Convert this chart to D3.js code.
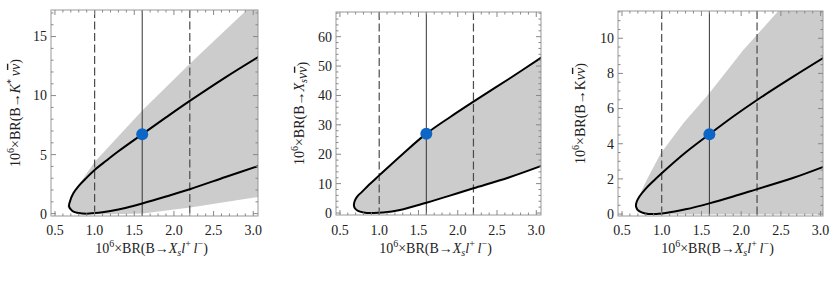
<!DOCTYPE html>
<html>
<head>
<meta charset="utf-8">
<script src="https://cdn.jsdelivr.net/npm/d3@7"></script>
<style>
  body { margin: 0; background: #fff; }
</style>
</head>
<body>
<div id="chart-area"></div>
<script>

var width = 830,
	height = 284;

var serif = "'Liberation Serif', 'Times New Roman', Times, 'DejaVu Serif', serif";

// shared x ticks (BR(B -> Xs l+ l-) x 10^6)
var xTicks = [0.5, 1.0, 1.5, 2.0, 2.5, 3.0];
var xLines = [1.0, 2.2];     // dashed experimental range
var xCentral = 1.6;          // solid central value

// panel 1 : B -> K* nu nu
var kstarTicks = [0, 5, 10, 15];
var kstarCurve = [
	[3.07, 4.05], [2.65, 3.1], [2.2, 2.07], [1.9, 1.45], [1.6, 0.86],
	[1.4, 0.5], [1.2, 0.22], [1.05, 0.07], [0.9, 0.0], [0.8, 0.05],
	[0.72, 0.22], [0.678, 0.6], [0.69, 1.05], [0.73, 1.7], [0.8, 2.35],
	[0.9, 3.05], [1.0, 3.7], [1.15, 4.5], [1.3, 5.28], [1.6, 6.72],
	[1.9, 8.15], [2.2, 9.55], [2.65, 11.55], [3.07, 13.3]
];
var kstarBandTop = [
	[0.66, 0.7], [0.70, 1.45], [0.90, 3.41], [1.0, 4.37], [1.607, 8.78],
	[2.207, 12.74], [2.918, 17.25], [3.10, 18.2]
];
var kstarBandBottom = [
	[3.10, 1.45], [2.207, 0.52], [1.607, 0.02], [1.2, -0.05], [0.85, -0.05],
	[0.72, 0.1], [0.66, 0.5]
];
var kstarPoint = [1.6, 6.72];

// panel 2 : B -> Xs nu nu
var xsTicks = [0, 10, 20, 30, 40, 50, 60];
var xsCurve = [
	[3.07, 16.1], [2.65, 12.1], [2.2, 8.4], [1.9, 5.9], [1.6, 3.5],
	[1.265, 1.0], [1.05, 0.15], [0.9, 0.0], [0.8, 0.2], [0.73, 0.7],
	[0.69, 1.6], [0.678, 2.6], [0.685, 3.8], [0.70, 4.8], [0.73, 5.9],
	[0.78, 7.2], [0.87, 9.6], [1.0, 12.8], [1.3, 20.1], [1.6, 27.0],
	[1.9, 32.6], [2.2, 37.9], [2.65, 45.6], [3.07, 53.0]
];
var xsPoint = [1.6, 27];

// panel 3 : B -> K nu nu
var kTicks = [0, 2, 4, 6, 8, 10];
var kCurve = [
	[3.06, 2.73], [2.65, 2.05], [2.2, 1.42], [1.9, 1.0], [1.6, 0.61],
	[1.3, 0.27], [1.05, 0.06], [0.9, 0.0], [0.78, 0.05], [0.715, 0.17],
	[0.677, 0.42], [0.685, 0.7], [0.72, 1.0], [0.8, 1.45], [0.9, 1.9],
	[1.0, 2.32], [1.3, 3.5], [1.6, 4.54], [1.9, 5.55], [2.2, 6.49],
	[2.65, 7.8], [3.06, 8.95]
];
var kBandTop = [
	[0.67, 0.3], [0.693, 0.80], [0.811, 1.94], [0.987, 3.45], [1.272, 5.16],
	[1.599, 6.87], [2.027, 9.33], [2.467, 11.55], [2.65, 12.6]
];
var kBandBottom = [
	[3.10, 12.6], [3.10, -0.02], [0.80, -0.02], [0.70, 0.1], [0.67, 0.3]
];
var kPoint = [1.6, 4.54];

var panels = [
	{left: 51, right: 258, top: 10, bottom: 216, xDom: [0.45, 3.06], yDom: [-0.2, 17.25],
	 yTicks: kstarTicks, yMinor: 1, curve: kstarCurve, bandTop: kstarBandTop, bandBottom: kstarBandBottom,
	 point: kstarPoint, yLabelX: 15, yLabel: "kstar"},
	{left: 336, right: 541, top: 12, bottom: 215, xDom: [0.45, 3.06], yDom: [-0.68, 68.4],
	 yTicks: xsTicks, yMinor: 2, curve: xsCurve, bandTop: null, bandBottom: null,
	 point: xsPoint, yLabelX: 299, yLabel: "xs"},
	{left: 618, right: 823, top: 11, bottom: 216, xDom: [0.45, 3.03], yDom: [-0.11, 11.55],
	 yTicks: kTicks, yMinor: 0.5, curve: kCurve, bandTop: kBandTop, bandBottom: kBandBottom,
	 point: kPoint, yLabelX: 580, yLabel: "k"}
];

var svg = d3.select("#chart-area").append("svg")
	.attr("width", width)
	.attr("height", height)
	.attr("font-family", serif)
	.style("font-family", serif);

var line = d3.line()
	.x(function(d) { return d.x; })
	.y(function(d) { return d.y; })
	.curve(d3.curveCatmullRom.alpha(0.5));

function range(a, b, step) {
	var out = [];
	for (var v = a; v <= b + 1e-9; v += step) out.push(Math.round(v * 1000) / 1000);
	return out;
}

// nu nu-bar, second nu with a bar over it
function nunubar(t) {
	t.append("tspan").attr("font-style", "italic").text("\u03bd");
	t.append("tspan").attr("font-style", "italic")
		.style("text-decoration", "overline").text("\u03bd");
}

panels.forEach(function(p, i) {

	var x = d3.scaleLinear().domain(p.xDom).range([p.left, p.right]);
	var y = d3.scaleLinear().domain(p.yDom).range([p.bottom, p.top]);

	var g = svg.append("g");

	g.append("clipPath").attr("id", "clip" + i)
		.append("rect")
		.attr("x", p.left).attr("y", p.top)
		.attr("width", p.right - p.left).attr("height", p.bottom - p.top);

	var plot = g.append("g").attr("clip-path", "url(#clip" + i + ")");

	var toPx = function(pts) {
		return pts.map(function(d) { return {x: x(d[0]), y: y(d[1])}; });
	};

	// gray band
	if (p.bandTop) {
		var bandLine = d3.line()
			.x(function(d) { return x(d[0]); })
			.y(function(d) { return y(d[1]); })
			.curve(d3.curveLinear);
		plot.append("path")
			.attr("d", bandLine(p.bandTop.concat(p.bandBottom)) + "Z")
			.attr("fill", "#cccccc");
	} else {
		plot.append("path")
			.attr("d", line(toPx(p.curve)) + "Z")
			.attr("fill", "#cccccc");
	}

	// vertical lines
	xLines.forEach(function(v) {
		plot.append("line")
			.attr("x1", x(v)).attr("x2", x(v))
			.attr("y1", p.top).attr("y2", p.bottom)
			.attr("stroke", "#4a4a4a")
			.attr("stroke-width", 1.2)
			.attr("stroke-dasharray", "8,3.5");
	});
	plot.append("line")
		.attr("x1", x(xCentral)).attr("x2", x(xCentral))
		.attr("y1", p.top).attr("y2", p.bottom)
		.attr("stroke", "#333")
		.attr("stroke-width", 1);

	// contour
	plot.append("path")
		.attr("d", line(toPx(p.curve)))
		.attr("fill", "none")
		.attr("stroke", "#000")
		.attr("stroke-width", 2);

	// central point
	plot.append("circle")
		.attr("cx", x(p.point[0])).attr("cy", y(p.point[1]))
		.attr("r", 6)
		.attr("fill", "#0b66c6");

	// frame
	g.append("rect")
		.attr("x", p.left).attr("y", p.top)
		.attr("width", p.right - p.left).attr("height", p.bottom - p.top)
		.attr("fill", "none")
		.attr("stroke", "#999")
		.attr("stroke-width", 1);

	// ticks (inside, all four sides)
	var tickCol = "#888";
	var xMinor = range(0.5, p.xDom[1], 0.1);
	xMinor.forEach(function(v) {
		var major = xTicks.indexOf(v) >= 0;
		var len = major ? 5 : 2.5;
		g.append("line").attr("x1", x(v)).attr("x2", x(v))
			.attr("y1", p.bottom).attr("y2", p.bottom - len)
			.attr("stroke", tickCol);
		g.append("line").attr("x1", x(v)).attr("x2", x(v))
			.attr("y1", p.top).attr("y2", p.top + len)
			.attr("stroke", tickCol);
	});
	var yMinor = range(0, p.yDom[1], p.yMinor);
	yMinor.forEach(function(v) {
		var major = p.yTicks.indexOf(v) >= 0;
		var len = major ? 5 : 2.5;
		g.append("line").attr("y1", y(v)).attr("y2", y(v))
			.attr("x1", p.left).attr("x2", p.left + len)
			.attr("stroke", tickCol);
		g.append("line").attr("y1", y(v)).attr("y2", y(v))
			.attr("x1", p.right).attr("x2", p.right - len)
			.attr("stroke", tickCol);
	});

	// tick labels
	g.selectAll(".xl").data(xTicks).enter().append("text")
		.attr("x", function(d) { return x(d); })
		.attr("y", 235)
		.attr("text-anchor", "middle")
		.attr("font-size", 14)
		.attr("fill", "#222")
		.text(function(d) { return d.toFixed(1); });

	g.selectAll(".yl").data(p.yTicks).enter().append("text")
		.attr("x", p.left - 4)
		.attr("y", function(d) { return y(d); })
		.attr("dy", "0.35em")
		.attr("text-anchor", "end")
		.attr("font-size", 14)
		.attr("fill", "#222")
		.text(function(d) { return d; });

	// x axis label
	var xl = g.append("text")
		.attr("x", (p.left + p.right) / 2 - 3)
		.attr("y", 253)
		.attr("text-anchor", "middle")
		.attr("font-size", 14)
		.attr("fill", "#222");
	xl.append("tspan").text("10");
	xl.append("tspan").attr("dy", -6).attr("font-size", 10).text("6");
	xl.append("tspan").attr("dy", 6).text("\u00d7BR(B\u2192");
	xl.append("tspan").attr("font-style", "italic").text("X");
	xl.append("tspan").attr("dy", 3).attr("font-size", 10).attr("font-style", "italic").text("s");
	xl.append("tspan").attr("dy", -3).attr("font-style", "italic").text("l");
	xl.append("tspan").attr("dy", -6).attr("font-size", 10).text("+");
	xl.append("tspan").attr("dy", 6).attr("font-style", "italic").text("\u2009l");
	xl.append("tspan").attr("dy", -6).attr("font-size", 10).text("\u2212");
	xl.append("tspan").attr("dy", 6).text(")");

	// y axis label
	var yl = g.append("text")
		.attr("transform", "translate(" + p.yLabelX + "," + ((p.top + p.bottom) / 2) + ") rotate(-90)")
		.attr("text-anchor", "middle")
		.attr("dy", "0.35em")
		.attr("font-size", 14)
		.attr("fill", "#222");
	yl.append("tspan").text("10");
	yl.append("tspan").attr("dy", -6).attr("font-size", 10).text("6");
	yl.append("tspan").attr("dy", 6).text("\u00d7BR(B\u2192");
	if (p.yLabel == "kstar") {
		yl.append("tspan").attr("font-style", "italic").text("K");
		yl.append("tspan").attr("dy", -6).attr("font-size", 10).text("*");
		yl.append("tspan").attr("dy", 6).text("\u2009");
		nunubar(yl);
	} else if (p.yLabel == "xs") {
		yl.append("tspan").attr("font-style", "italic").text("X");
		yl.append("tspan").attr("dy", 3).attr("font-size", 10).attr("font-style", "italic").text("s");
		yl.append("tspan").attr("dy", -3).text("");
		nunubar(yl);
	} else {
		yl.append("tspan").text("K");
		nunubar(yl);
	}
	yl.append("tspan").text(")");
});

</script>
</body>
</html>
